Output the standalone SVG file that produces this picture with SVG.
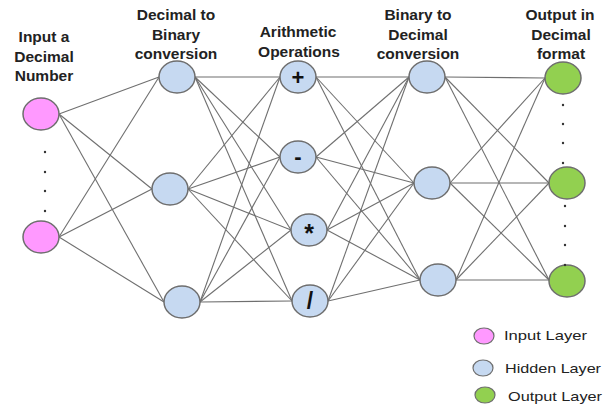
<svg xmlns="http://www.w3.org/2000/svg" width="603" height="407" viewBox="0 0 603 407">
<style>
.hdr{font-family:"Liberation Sans",Arial,sans-serif;font-weight:bold;font-size:15.5px;fill:#222;text-anchor:middle}
.op{font-family:"Liberation Sans",Arial,sans-serif;font-weight:bold;font-size:22px;fill:#111;text-anchor:middle}
.leg{font-family:"Liberation Sans",Arial,sans-serif;font-size:13px;fill:#222}
.n{stroke:#6e6e6e;stroke-width:1.5}
.in{fill:#ff99ff}
.hid{fill:#c6d9f1}
.out{fill:#92d050}
.e line{stroke:#6f6f6f;stroke-width:1.1}
.dot{fill:#333}
</style>
<rect width="603" height="407" fill="#fff"/>
<g id="headers">
<text class="hdr" x="44" y="42">Input a</text>
<text class="hdr" x="44" y="61.5">Decimal</text>
<text class="hdr" x="44" y="81">Number</text>
<text class="hdr" x="176" y="20">Decimal to</text>
<text class="hdr" x="176" y="39.5">Binary</text>
<text class="hdr" x="176" y="59">conversion</text>
<text class="hdr" x="298" y="37">Arithmetic</text>
<text class="hdr" x="299" y="56.5">Operations</text>
<text class="hdr" x="418" y="20">Binary to</text>
<text class="hdr" x="418" y="39.5">Decimal</text>
<text class="hdr" x="418" y="59">conversion</text>
<text class="hdr" x="560" y="20">Output in</text>
<text class="hdr" x="561" y="39.5">Decimal</text>
<text class="hdr" x="561" y="59">format</text>
</g>
<g id="connectors" class="e">
<line x1="59" y1="114" x2="159" y2="77"/>
<line x1="59" y1="114" x2="152" y2="189"/>
<line x1="59" y1="114" x2="164" y2="302"/>
<line x1="59" y1="237" x2="159" y2="77"/>
<line x1="59" y1="237" x2="152" y2="189"/>
<line x1="59" y1="237" x2="164" y2="302"/>
<line x1="195" y1="77" x2="280" y2="77"/>
<line x1="195" y1="77" x2="280" y2="157"/>
<line x1="195" y1="77" x2="291" y2="230"/>
<line x1="195" y1="77" x2="292" y2="301"/>
<line x1="188" y1="189" x2="280" y2="77"/>
<line x1="188" y1="189" x2="280" y2="157"/>
<line x1="188" y1="189" x2="291" y2="230"/>
<line x1="188" y1="189" x2="292" y2="301"/>
<line x1="200" y1="302" x2="280" y2="77"/>
<line x1="200" y1="302" x2="280" y2="157"/>
<line x1="200" y1="302" x2="291" y2="230"/>
<line x1="200" y1="302" x2="292" y2="301"/>
<line x1="316" y1="77" x2="409" y2="77"/>
<line x1="316" y1="77" x2="414" y2="183"/>
<line x1="316" y1="77" x2="420" y2="280"/>
<line x1="316" y1="157" x2="409" y2="77"/>
<line x1="316" y1="157" x2="414" y2="183"/>
<line x1="316" y1="157" x2="420" y2="280"/>
<line x1="327" y1="230" x2="409" y2="77"/>
<line x1="327" y1="230" x2="414" y2="183"/>
<line x1="327" y1="230" x2="420" y2="280"/>
<line x1="328" y1="301" x2="409" y2="77"/>
<line x1="328" y1="301" x2="414" y2="183"/>
<line x1="328" y1="301" x2="420" y2="280"/>
<line x1="445" y1="77" x2="545" y2="78"/>
<line x1="445" y1="77" x2="549" y2="183"/>
<line x1="445" y1="77" x2="549" y2="280"/>
<line x1="450" y1="183" x2="545" y2="78"/>
<line x1="450" y1="183" x2="549" y2="183"/>
<line x1="450" y1="183" x2="549" y2="280"/>
<line x1="456" y1="280" x2="545" y2="78"/>
<line x1="456" y1="280" x2="549" y2="183"/>
<line x1="456" y1="280" x2="549" y2="280"/>
</g>
<g id="input1"><ellipse class="n in" cx="41" cy="114" rx="18" ry="16"/></g>
<g id="input2"><ellipse class="n in" cx="41" cy="237" rx="18" ry="16"/></g>
<g id="input-dots">
<circle class="dot" cx="45" cy="152" r="1.2"/>
<circle class="dot" cx="45" cy="172" r="1.2"/>
<circle class="dot" cx="45" cy="191" r="1.2"/>
<circle class="dot" cx="45" cy="211" r="1.2"/>
</g>
<g id="d2b1"><ellipse class="n hid" cx="177" cy="77" rx="18" ry="16"/></g>
<g id="d2b2"><ellipse class="n hid" cx="170" cy="189" rx="18" ry="16"/></g>
<g id="d2b3"><ellipse class="n hid" cx="182" cy="302" rx="18" ry="16"/></g>
<g id="opAdd"><ellipse class="n hid" cx="298" cy="77" rx="18" ry="16"/><text class="op" x="298" y="85">+</text></g>
<g id="opSub"><ellipse class="n hid" cx="298" cy="157" rx="18" ry="16"/><text class="op" x="298" y="164">-</text></g>
<g id="opMul"><ellipse class="n hid" cx="309" cy="230" rx="18" ry="16"/><text class="op" x="309" y="242" style="font-size:25px">*</text></g>
<g id="opDiv"><ellipse class="n hid" cx="310" cy="301" rx="18" ry="16"/><text class="op" x="310" y="309" style="font-size:23px">/</text></g>
<g id="b2d1"><ellipse class="n hid" cx="427" cy="77" rx="18" ry="16"/></g>
<g id="b2d2"><ellipse class="n hid" cx="432" cy="183" rx="18" ry="16"/></g>
<g id="b2d3"><ellipse class="n hid" cx="438" cy="280" rx="18" ry="16"/></g>
<g id="out1"><ellipse class="n out" cx="563" cy="78" rx="18" ry="16"/></g>
<g id="out2"><ellipse class="n out" cx="567" cy="183" rx="18" ry="16"/></g>
<g id="out3"><ellipse class="n out" cx="567" cy="281" rx="18" ry="16"/></g>
<g id="output-dots">
<circle class="dot" cx="563" cy="105" r="1.2"/>
<circle class="dot" cx="563" cy="124" r="1.2"/>
<circle class="dot" cx="563" cy="143" r="1.2"/>
<circle class="dot" cx="563" cy="163" r="1.2"/>
<circle class="dot" cx="565" cy="206" r="1.2"/>
<circle class="dot" cx="565" cy="226" r="1.2"/>
<circle class="dot" cx="565" cy="245" r="1.2"/>
<circle class="dot" cx="565" cy="265" r="1.2"/>
</g>
<g id="legend">
<ellipse class="n in" cx="484" cy="336" rx="10" ry="8" style="stroke-width:1.2"/>
<text class="leg" x="504" y="340" textLength="83" lengthAdjust="spacingAndGlyphs">Input Layer</text>
<ellipse class="n hid" cx="483" cy="368" rx="10" ry="8" style="stroke-width:1.2"/>
<text class="leg" x="505" y="373" textLength="96" lengthAdjust="spacingAndGlyphs">Hidden Layer</text>
<ellipse class="n out" cx="485" cy="395" rx="10" ry="8" style="stroke-width:1.2"/>
<text class="leg" x="508" y="401" textLength="94" lengthAdjust="spacingAndGlyphs">Output Layer</text>
</g>
</svg>
